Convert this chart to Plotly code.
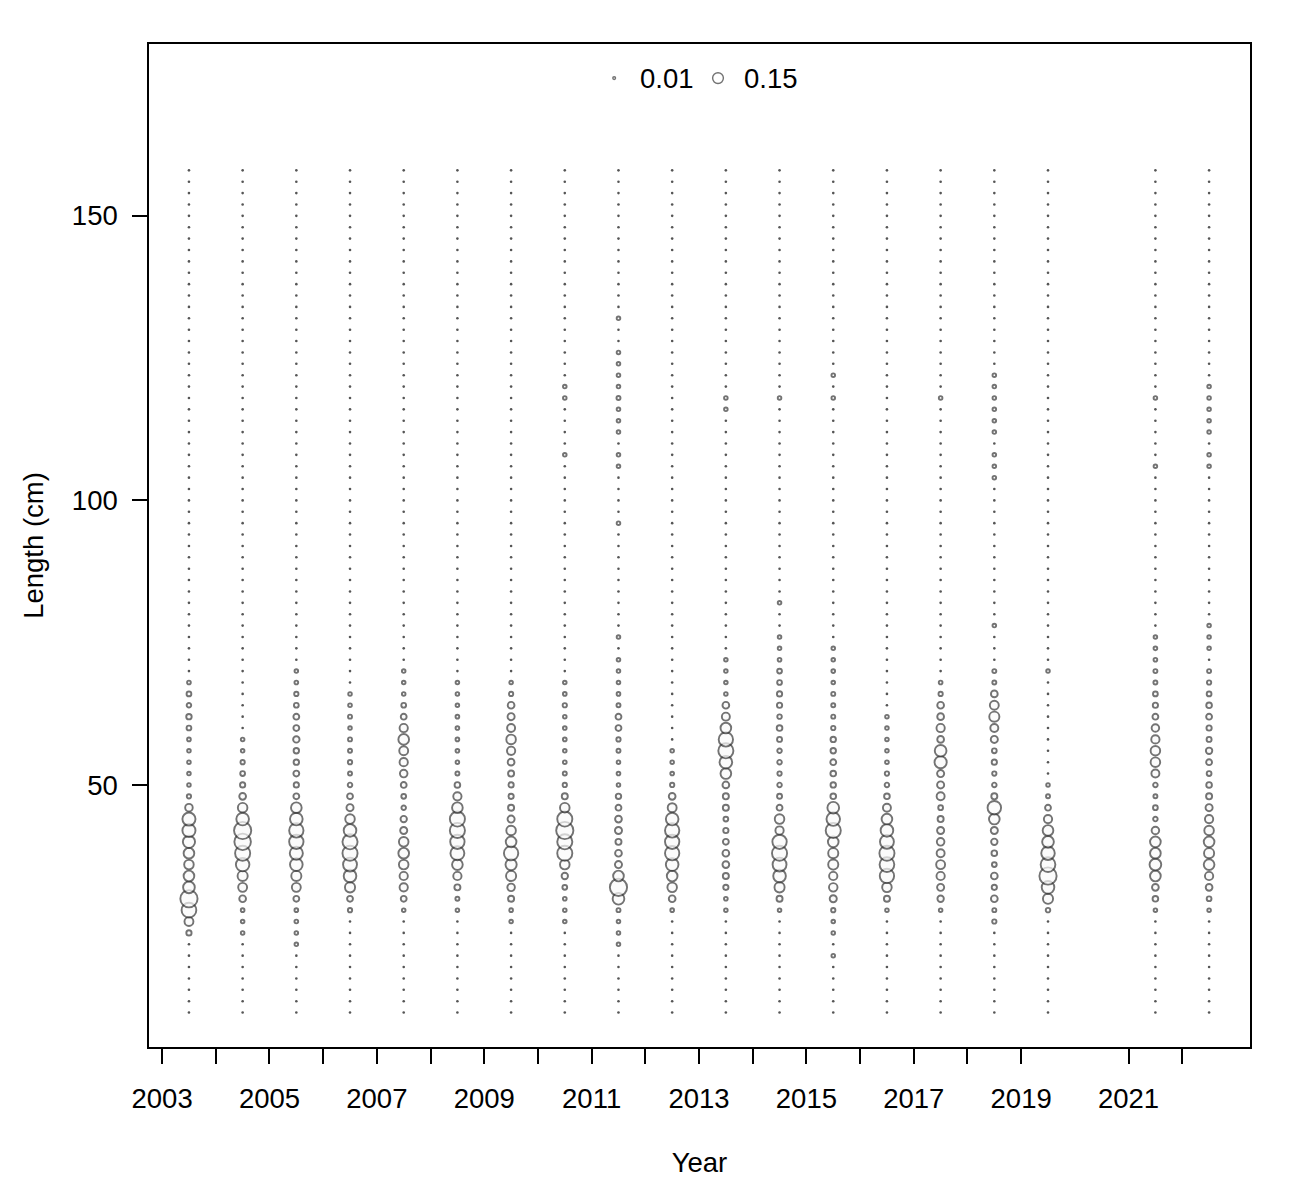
import numpy as np
import plotly.graph_objects as go

# years sampled (no 2020) and 2-cm length bins
years = [2003, 2004, 2005, 2006, 2007, 2008, 2009, 2010, 2011, 2012,
         2013, 2014, 2015, 2016, 2017, 2018, 2019, 2021, 2022]
bins = list(range(10, 160, 2))
core_bins = list(range(70, 8, -2))  # 70 cm down to 10 cm

# proportions at length, 70 cm -> 10 cm
p2003 = [0, .006, .010, .009, .013, .010, .006, .001, .001, .004, .004, .008, .025, .075, .075, .065,
         .05, .04, .05, .06, .13, .095, .035, .012, 0, 0, 0, 0, 0, 0, 0]
p2004 = [0, 0, 0, 0, 0, 0, .004, .005, .008, .010, .012, .02, .04, .07, .13, .12,
         .10, .08, .045, .035, .02, .006, .005, .004, 0, 0, 0, 0, 0, 0, 0]
p2005 = [.003, .006, .008, .010, .015, .015, .018, .013, .013, .015, .012, .015, .05, .07, .09, .09,
         .075, .07, .045, .035, .015, .006, .006, .004, .002, 0, 0, 0, 0, 0, 0]
p2006 = [0, 0, .004, .006, .007, .005, .007, .007, .008, .007, .009, .015, .022, .04, .07, .10,
         .10, .085, .07, .045, .015, .008, 0, 0, 0, 0, 0, 0, 0, 0, 0]
p2007 = [.004, .004, .004, .010, .015, .03, .05, .035, .03, .025, .015, .010, .009, .018, .022, .04,
         .05, .04, .03, .03, .015, .004, 0, 0, 0, 0, 0, 0, 0, 0, 0]
p2008 = [0, .004, .004, .005, .006, .006, .006, .006, .004, .007, .014, .03, .05, .10, .10, .09,
         .085, .05, .03, .016, .007, .004, 0, 0, 0, 0, 0, 0, 0, 0, 0]
p2009 = [0, .004, .008, .02, .022, .028, .04, .03, .02, .016, .012, .012, .016, .022, .04, .05,
         .09, .055, .045, .025, .016, .006, .004, 0, 0, 0, 0, 0, 0, 0, 0]
p2010 = [0, .004, .006, .008, .005, .006, .006, .005, .006, .007, .008, .016, .04, .10, .13, .10,
         .10, .04, .018, .01, .006, .004, .003, 0, 0, 0, 0, 0, 0, 0, 0]
p2011 = [.004, .005, .006, .007, .015, .015, .008, .007, .005, .006, .004, .013, .015, .02, .022, .016,
         .02, .022, .05, .13, .06, .007, .004, .004, .004, 0, 0, 0, 0, 0, 0]
p2012 = [0, 0, 0, 0, 0, 0, 0, .003, .005, .006, .008, .02, .035, .07, .09, .09,
         .09, .07, .05, .04, .02, .006, 0, 0, 0, 0, 0, 0, 0, 0, 0]
p2013 = [.004, .005, .005, .02, .028, .05, .09, .10, .07, .05, .02, .016, .016, .01, .012, .015,
         .02, .02, .016, .012, .006, .004, 0, 0, 0, 0, 0, 0, 0, 0, 0]
p2014 = [.01, .01, .012, .012, .009, .014, .011, .009, .009, .008, .009, .011, .015, .04, .03, .09,
         .10, .085, .07, .045, .016, .005, 0, 0, 0, 0, 0, 0, 0, 0, 0]
p2015 = [.006, .005, .007, .007, .007, .008, .013, .013, .015, .014, .013, .014, .06, .08, .10, .05,
         .045, .045, .03, .032, .022, .008, .004, .004, 0, .004, 0, 0, 0, 0, 0]
p2016 = [0, 0, 0, 0, .004, .004, .004, .005, .006, .008, .009, .014, .028, .05, .07, .085,
         .10, .095, .09, .04, .016, .004, 0, 0, 0, 0, 0, 0, 0, 0, 0]
p2017 = [0, .006, .008, .02, .02, .03, .02, .06, .065, .022, .022, .028, .01, .016, .022, .025,
         .028, .035, .03, .022, .018, .005, 0, 0, 0, 0, 0, 0, 0, 0, 0]
p2018 = [.007, .007, .02, .035, .045, .028, .022, .01, .012, .008, .009, .016, .08, .05, .022, .018,
         .014, .01, .02, .012, .02, .007, .008, 0, 0, 0, 0, 0, 0, 0, 0]
p2019 = [.004, 0, 0, 0, 0, 0, 0, 0, 0, 0, .004, .007, .015, .03, .05, .06,
         .08, .095, .13, .07, .045, .009, 0, 0, 0, 0, 0, 0, 0, 0, 0]
p2021 = [.007, .007, .01, .012, .015, .025, .03, .04, .04, .028, .009, .007, .01, .009, .025, .05,
         .05, .06, .05, .02, .014, .004, 0, 0, 0, 0, 0, 0, 0, 0, 0]
p2022 = [.007, .008, .01, .014, .015, .012, .011, .018, .015, .01, .014, .016, .022, .03, .04, .05,
         .045, .05, .03, .02, .01, .004, 0, 0, 0, 0, 0, 0, 0, 0, 0]

# sparse records above 70 cm
tail_year = [2011, 2011, 2011, 2011, 2011, 2011, 2011, 2011, 2011, 2011, 2011, 2011, 2011, 2011,
             2010, 2010, 2010, 2013, 2013, 2013, 2014, 2014, 2014, 2014, 2014,
             2015, 2015, 2015, 2015, 2017,
             2018, 2018, 2018, 2018, 2018, 2018, 2018, 2018, 2018, 2018,
             2021, 2021, 2021, 2021, 2021,
             2022, 2022, 2022, 2022, 2022, 2022, 2022, 2022, 2022, 2022]
tail_len = [132, 126, 124, 122, 120, 118, 116, 114, 112, 108, 106, 96, 76, 72,
            120, 118, 108, 118, 116, 72, 118, 82, 76, 74, 72,
            122, 118, 74, 72, 118,
            122, 120, 118, 116, 114, 112, 108, 106, 104, 78,
            118, 106, 76, 74, 72,
            120, 118, 116, 114, 112, 108, 106, 78, 76, 74]
tail_prop = [.003, .003, .005, .003, .005, .007, .005, .004, .004, .005, .003, .003, .005, .004,
             .003, .003, .003, .003, .003, .003, .003, .002, .003, .004, .006,
             .003, .004, .004, .004, .003,
             .005, .005, .005, .003, .003, .003, .004, .002, .003, .003,
             .003, .003, .005, .006, .006,
             .003, .005, .003, .004, .003, .003, .003, .005, .003, .005]

legend_vals = [0.01, 0.15]
legend_text = ['0.01', '0.15']
y_ticks = [50, 100, 150]
x_labels = [str(y) if y % 2 == 1 else '' for y in years]

core = dict(zip(years, [p2003, p2004, p2005, p2006, p2007, p2008, p2009, p2010, p2011, p2012,
                        p2013, p2014, p2015, p2016, p2017, p2018, p2019, p2021, p2022]))

grid = {y: {b: 0.0 for b in bins} for y in years}
for y in years:
    for b, v in zip(core_bins, core[y]):
        grid[y][b] = v
for y, b, v in zip(tail_year, tail_len, tail_prop):
    grid[y][b] = v

xs, ys, ps, x0, y0 = [], [], [], [], []
for y in years:
    for b in bins:
        v = grid[y][b]
        if v > 0:
            xs.append(y + 0.5); ys.append(b); ps.append(v)
        else:
            x0.append(y + 0.5); y0.append(b)

FONT = "Liberation Sans, Arial, sans-serif"
FS = 27.5
max_diam = 18.5
sizeref = 2 * 0.15 / max_diam ** 2
edge = '#383838'

fig = go.Figure()
fig.add_trace(go.Scatter(x=x0, y=y0, mode='markers', hoverinfo='skip',
                         marker=dict(size=2.6, color='#555555', line=dict(width=0))))
fig.add_trace(go.Scatter(x=xs, y=ys, mode='markers',
                         marker=dict(size=ps, sizemode='area', sizeref=sizeref, sizemin=1.8,
                                     symbol='circle', color='rgba(250,250,250,1)',
                                     line=dict(color=edge, width=1.9))))

# bubble key drawn on an overlay axis
fig.add_trace(go.Scatter(x=[0.4225, 0.5168], y=[0.966, 0.966], xaxis='x2', yaxis='y2',
                         mode='markers',
                         marker=dict(size=legend_vals, sizemode='area', sizeref=sizeref / 0.34,
                                     color='white', line=dict(color=edge, width=1.4))))
for xp, t in zip([0.4442, 0.5386], legend_text):
    fig.add_annotation(x=xp, y=0.966, xref='paper', yref='paper', text=t, showarrow=False,
                       xanchor='left', yanchor='middle', font=dict(size=FS, color='black', family=FONT))

fig.update_layout(
    width=1307, height=1180,
    margin=dict(l=141, r=65, t=36, b=141),
    paper_bgcolor='white', plot_bgcolor='white',
    showlegend=False,
    font=dict(family=FONT, size=FS, color='black'),
    xaxis=dict(range=[2002.756, 2023.262], tickvals=years, ticktext=x_labels,
               ticks='outside', ticklen=15, tickwidth=1.5, tickcolor='black',
               showgrid=False, zeroline=False, showline=True, linecolor='black', linewidth=1.5,
               mirror=True, ticklabelstandoff=11,
               title=dict(text='Year', standoff=40, font=dict(size=FS))),
    yaxis=dict(range=[3.95, 180.2], tickvals=y_ticks,
               ticks='outside', ticklen=15, tickwidth=1.5, tickcolor='black',
               showgrid=False, zeroline=False, showline=True, linecolor='black', linewidth=1.5,
               mirror=True, ticklabelstandoff=9,
               title=dict(text='Length (cm)', standoff=20, font=dict(size=FS))),
    xaxis2=dict(range=[0, 1], overlaying='x', visible=False),
    yaxis2=dict(range=[0, 1], overlaying='y', visible=False),
)

fig.write_html("out.html")
